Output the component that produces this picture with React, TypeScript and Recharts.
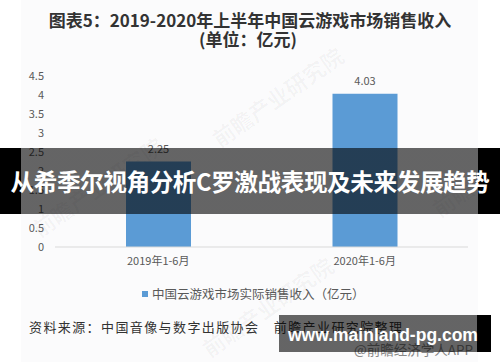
import { BarChart, Bar, XAxis, YAxis, LabelList } from "recharts";

const periods = ["2019年1-6月", "2020年1-6月"];
const revenue = [2.25, 4.03];
const yTicks = [0, 0.5, 1, 1.5, 2, 2.5, 3, 3.5, 4, 4.5];

const titleLine1 = "图表5：2019-2020年上半年中国云游戏市场销售收入";
const titleLine2 = "(单位：亿元)";
const seriesName = "中国云游戏市场实际销售收入（亿元）";
const sourceText = "资料来源：中国音像与数字出版协会　前瞻产业研究院整理";
const bannerText = "从希季尔视角分析C罗激战表现及未来发展趋势";
const siteText = "www.mainland-pg.com";
const appText = "@前瞻经济学人APP";

const data = periods.map((p, i) => ({ period: p, value: revenue[i] }));

const font = '"Noto Sans CJK SC", "Noto Sans", sans-serif';
const barColor = "#5b9bd5";

export default function App() {
  return (
    <div
      style={{
        position: "absolute",
        left: 0,
        top: 0,
        width: 500,
        height: 362,
        background: "#fff",
        overflow: "hidden",
        fontFamily: font,
      }}
    >
      {/* picture area, slightly tinted */}
      <div style={{ position: "absolute", left: 21, top: 0, width: 457, height: 362, background: "#fbfbfc" }} />

      {/* faint watermarks */}
      {[
        { x: 200, y: 80, r: -35 },
        { x: 20, y: 170, r: -35 },
        { x: 420, y: 150, r: -35 },
        { x: 190, y: 290, r: -35 },
      ].map((w, i) => (
        <div
          key={i}
          style={{
            position: "absolute",
            left: w.x,
            top: w.y,
            transform: `rotate(${w.r}deg)`,
            fontSize: 22,
            fontWeight: 700,
            color: "rgba(0,0,0,0.035)",
            whiteSpace: "nowrap",
          }}
        >
          前瞻产业研究院
        </div>
      ))}

      <div
        style={{
          position: "absolute",
          left: 0,
          top: 10,
          width: 500,
          textAlign: "center",
          fontSize: 17,
          fontWeight: 700,
          color: "#333",
          lineHeight: "19px",
        }}
      >
        <div>{titleLine1}</div>
        <div style={{ marginLeft: -4 }}>{titleLine2}</div>
      </div>

      <div style={{ position: "absolute", left: 0, top: 0 }}>
        <BarChart
          width={500}
          height={362}
          data={data}
          margin={{ top: 76, right: 32, left: 0, bottom: 95 }}
        >
          <XAxis
            dataKey="period"
            height={20}
            tickLine={false}
            axisLine={{ stroke: "#d9d9d9" }}
            tickSize={0}
            tickMargin={10}
            tick={{ fontSize: 11, fill: "#595959", fontFamily: font }}
          />
          <YAxis
            width={55}
            domain={[0, 4.5]}
            ticks={yTicks}
            interval={0}
            axisLine={false}
            tickLine={false}
            tickSize={0}
            tickMargin={11}
            tick={{ fontSize: 11, fill: "#595959", fontFamily: font }}
          />
          <Bar dataKey="value" fill={barColor} barSize={65} isAnimationActive={false}>
            <LabelList
              dataKey="value"
              position="top"
              offset={9}
              style={{ fontSize: 11, fill: "#595959", fontFamily: font }}
            />
          </Bar>
        </BarChart>
      </div>

      {/* legend */}
      <div
        style={{
          position: "absolute",
          left: 142,
          top: 284,
          display: "flex",
          alignItems: "center",
          fontSize: 12.5,
          color: "#595959",
          whiteSpace: "nowrap",
        }}
      >
        <span style={{ width: 6, height: 6, background: barColor, marginRight: 4 }} />
        <span>{seriesName}</span>
      </div>

      {/* source */}
      <div
        style={{
          position: "absolute",
          left: 29,
          top: 317,
          fontSize: 13,
          letterSpacing: 1.4,
          color: "#333",
          whiteSpace: "nowrap",
        }}
      >
        {sourceText}
      </div>
      <div
        style={{
          position: "absolute",
          left: 354,
          top: 339,
          fontSize: 13.5,
          color: "#888",
          whiteSpace: "nowrap",
        }}
      >
        {appText}
      </div>

      {/* overlay banner */}
      <div
        style={{
          position: "absolute",
          left: 0,
          top: 148,
          width: 500,
          height: 66,
          background:
            "linear-gradient(to right, #000 0px, #000 21px, rgba(0,0,0,0.6) 21px, rgba(0,0,0,0.6) 478px, #000 478px, #000 500px)",
          color: "#fff",
          fontSize: 23.6,
          fontWeight: 700,
          lineHeight: "66px",
          textAlign: "center",
          whiteSpace: "nowrap",
          letterSpacing: -0.4,
        }}
      >
        {bannerText}
      </div>

      {/* site box */}
      <div
        style={{
          position: "absolute",
          left: 279,
          top: 315,
          width: 212,
          height: 37,
          background:
            "linear-gradient(to right, rgba(0,0,0,0.6) 0px, rgba(0,0,0,0.6) 198px, #000 198px, #000 212px)",
        }}
      />
      <div
        style={{
          position: "absolute",
          left: 288,
          top: 324,
          fontFamily: '"Liberation Sans", Arial, sans-serif',
          fontSize: 17.5,
          fontWeight: 700,
          color: "#fff",
          lineHeight: "22px",
          whiteSpace: "nowrap",
        }}
      >
        {siteText}
      </div>
    </div>
  );
}
